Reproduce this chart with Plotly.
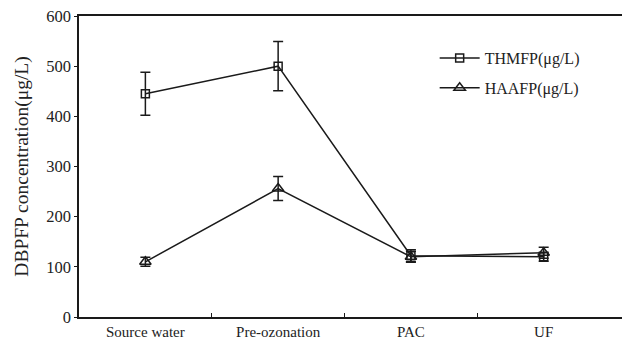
import plotly.graph_objects as go

categories = ["Source water", "Pre-ozonation", "PAC", "UF"]
thmfp = [445, 500, 122, 120]
thmfp_err = [43, 49, 12, 9]
haafp = [110, 256, 120, 128]
haafp_err = [9, 24, 11, 11]
y_ticks = [0, 100, 200, 300, 400, 500, 600]
boundary_ticks = [0.5, 1.5, 2.5]

C = "#1a1a1a"
TXT = "#222"
FONT = "Liberation Serif, Times New Roman, serif"

fig = go.Figure()
fig.add_trace(go.Scatter(
    x=categories, y=thmfp, name="THMFP(μg/L)", mode="lines+markers",
    line=dict(color=C, width=1.5),
    marker=dict(symbol="square-open", size=8, color=C, line=dict(width=1.5)),
    error_y=dict(type="data", array=thmfp_err, color=C, thickness=1.5, width=5),
    legendgroup="a",
))
fig.add_trace(go.Scatter(
    x=categories, y=haafp, name="HAAFP(μg/L)", mode="lines+markers",
    line=dict(color=C, width=1.5),
    marker=dict(symbol="triangle-up-open", size=10, color=C, line=dict(width=1.5)),
    error_y=dict(type="data", array=haafp_err, color=C, thickness=1.5, width=5),
    legendgroup="b",
))
# invisible trace to bind the overlay axis carrying category-boundary ticks
fig.add_trace(go.Scatter(x=boundary_ticks, y=[None] * 3, xaxis="x2", showlegend=False,
                         hoverinfo="skip"))

fig.update_layout(
    width=622, height=339,
    margin=dict(l=79, r=0, t=16, b=22, autoexpand=False),
    paper_bgcolor="white", plot_bgcolor="white",
    font=dict(family=FONT, size=16, color=TXT),
    showlegend=True,
    legend=dict(x=0.655, y=0.917, xanchor="left", yanchor="top",
                font=dict(family=FONT, size=16, color=TXT), itemwidth=40,
                bgcolor="rgba(0,0,0,0)", tracegroupgap=6),
    xaxis=dict(type="category", range=[-0.5, 3.59], showline=True, linecolor=C,
               linewidth=1.5, mirror=True, ticks="", showgrid=False, zeroline=False,
               tickfont=dict(family=FONT, size=15, color=TXT)),
    xaxis2=dict(overlaying="x", range=[-0.5, 3.59], tickvals=boundary_ticks,
                showticklabels=False, ticks="inside", ticklen=4, tickcolor=C,
                tickwidth=1, showgrid=False, zeroline=False, showline=False,
                side="bottom"),
    yaxis=dict(range=[0, 600], tickvals=y_ticks, showline=True, linecolor=C,
               linewidth=1.5, ticks="outside", ticklen=3, tickcolor=C,
               showgrid=False, zeroline=False,
               tickfont=dict(family=FONT, size=16.5, color=TXT),
               title=dict(text="DBPFP concentration(μg/L)", standoff=12,
                          font=dict(family=FONT, size=19.5, color=TXT))),
)
fig.write_html("out.html", config={"displayModeBar": False},
               post_script="document.body.style.margin='0';document.body.style.overflow='hidden';")
